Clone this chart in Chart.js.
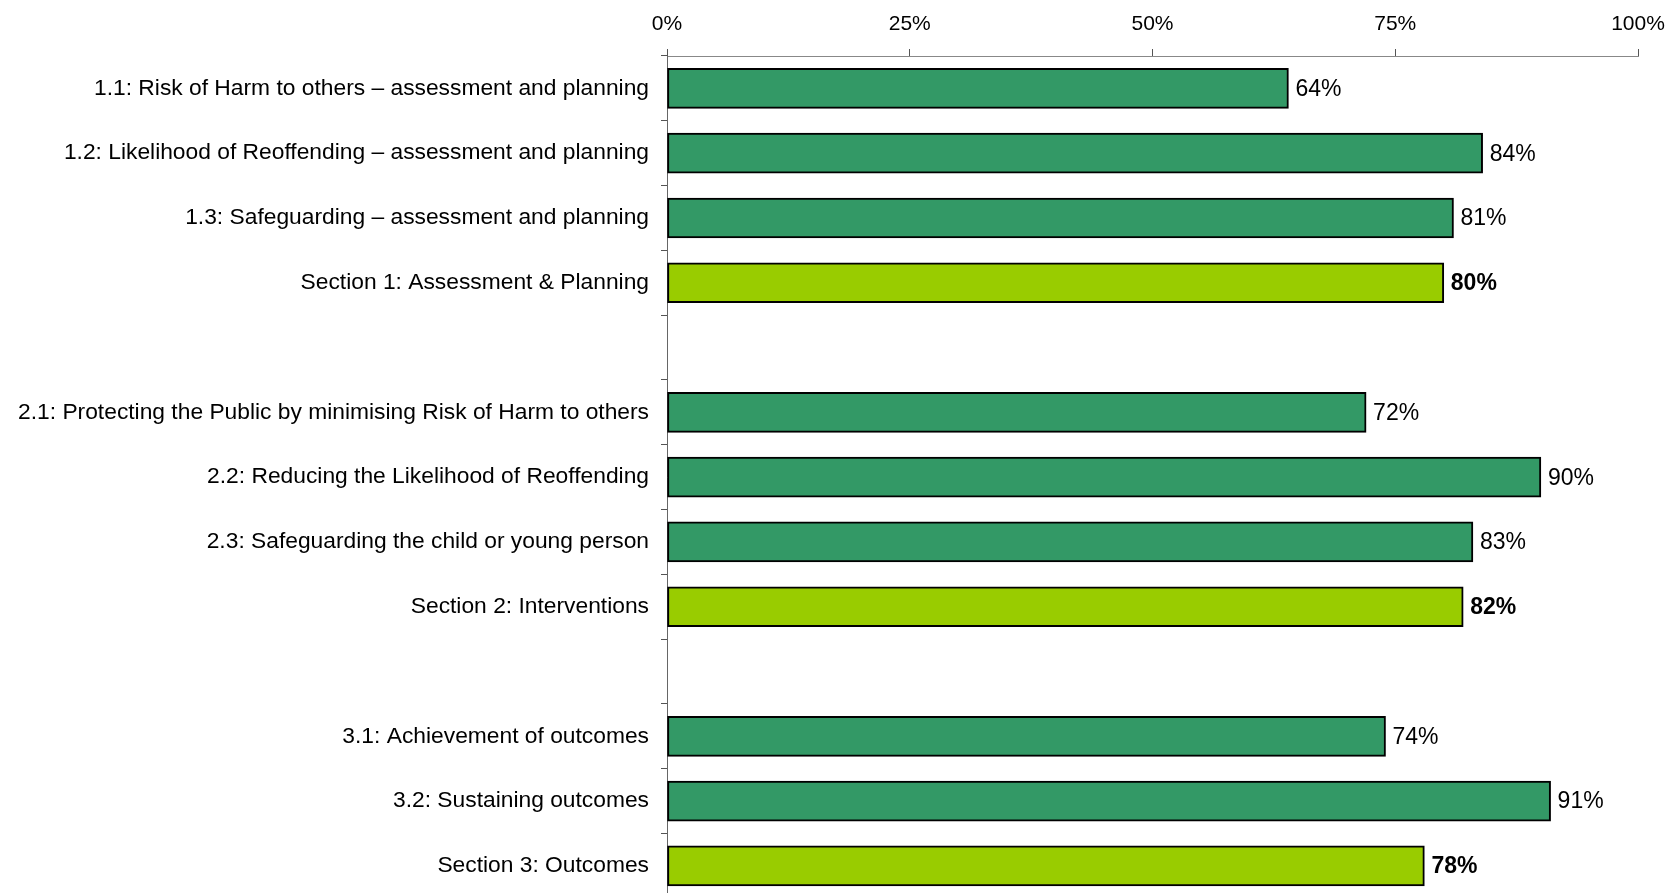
<!DOCTYPE html>
<html>
<head>
<meta charset="utf-8">
<script src="https://cdn.jsdelivr.net/npm/chart.js@4/dist/chart.umd.min.js"></script>
<style>
  html, body { margin: 0; padding: 0; background: #fff; overflow: hidden; }
  #wrap { width: 1673px; height: 924px; }
</style>
</head>
<body>
<div id="wrap"><canvas id="myChart" width="1673" height="924"></canvas></div>
<script>
// Catégories (les lignes vides séparent les sections)
const categories = [
    '1.1: Risk of Harm to others – assessment and planning',
    '1.2: Likelihood of Reoffending – assessment and planning',
    '1.3: Safeguarding – assessment and planning',
    'Section 1: Assessment & Planning',
    '',
    '2.1: Protecting the Public by minimising Risk of Harm to others',
    '2.2: Reducing the Likelihood of Reoffending',
    '2.3: Safeguarding the child or young person',
    'Section 2: Interventions',
    '',
    '3.1: Achievement of outcomes',
    '3.2: Sustaining outcomes',
    'Section 3: Outcomes'
];
const scores = [64, 84, 81, 80, null, 72, 90, 83, 82, null, 74, 91, 78];
const isSection = [false, false, false, true, false, false, false, false, true, false, false, false, true];
const xTicks = [0, 25, 50, 75, 100];

const DARK_GREEN = '#339966';
const LIGHT_GREEN = '#99CC00';
const FONT = 'Liberation Sans, Arial, sans-serif';

// Étiquettes de valeur à droite des barres
const valueLabels = {
    id: 'valueLabels',
    afterDatasetsDraw(chart) {
        const ctx = chart.ctx;
        const meta = chart.getDatasetMeta(0);
        ctx.save();
        ctx.fillStyle = '#000';
        ctx.textAlign = 'left';
        ctx.textBaseline = 'middle';
        meta.data.forEach((bar, i) => {
            if (scores[i] == null) return;
            ctx.font = (isSection[i] ? 'bold ' : '') + '23px ' + FONT;
            ctx.fillText(scores[i] + '%', bar.x + 7, bar.y + 1);
        });
        ctx.restore();
    }
};

const ctx = document.getElementById('myChart').getContext('2d');
const myChart = new Chart(ctx, {
    type: 'bar',
    data: {
        labels: categories,
        datasets: [{
            data: scores,
            backgroundColor: isSection.map(s => s ? LIGHT_GREEN : DARK_GREEN),
            borderColor: '#000',
            borderWidth: 2,
            borderSkipped: false,
            barThickness: 40
        }]
    },
    options: {
        indexAxis: 'y',
        responsive: false,
        animation: false,
        layout: { padding: { left: 0, right: 35, top: 0, bottom: 0 } },
        plugins: {
            legend: { display: false },
            tooltip: { enabled: false }
        },
        scales: {
            x: {
                position: 'top',
                min: 0,
                max: 100,
                afterBuildTicks: (scale) => { scale.ticks = xTicks.map(v => ({ value: v })); },
                afterFit: (scale) => {
                    scale.height = 56;
                    scale.paddingLeft = 0;
                    scale.paddingRight = 0;
                },
                ticks: {
                    callback: (v) => v + '%',
                    color: '#000',
                    font: { family: FONT, size: 21 },
                    padding: 12,
                    maxRotation: 0
                },
                grid: { drawOnChartArea: false, tickLength: 7, color: '#555' },
                border: { color: '#888', width: 1 }
            },
            y: {
                afterFit: (scale) => { scale.width = 667; },
                ticks: {
                    color: '#000',
                    font: { family: FONT, size: 22.8 },
                    padding: 12,
                    autoSkip: false
                },
                grid: { drawOnChartArea: false, tickLength: 6, color: '#555' },
                border: { color: '#666', width: 1 }
            }
        }
    },
    plugins: [valueLabels]
});
</script>
</body>
</html>
